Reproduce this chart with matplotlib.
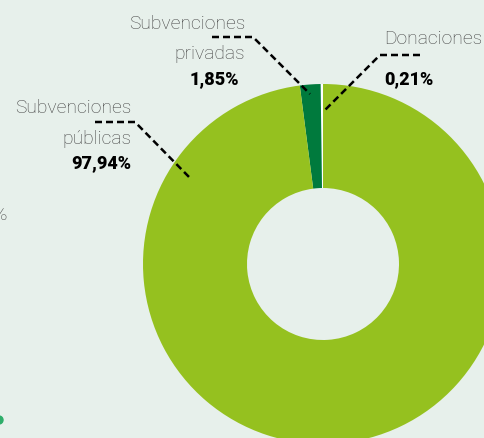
import matplotlib.pyplot as plt

# datos
categorias = ["Donaciones", "Subvenciones privadas", "Subvenciones públicas"]
valores = [0.21, 1.85, 97.94]
etiquetas = ["0,21%", "1,85%", "97,94%"]
colores = ["#ffffff", "#007a3d", "#95c11f"]

H = 439
fondo = "#e7f0eb"
gris = "#444444"
fuente = "Roboto"

def y(p):
    # de coordenada de pixel (desde arriba) a datos
    return H - p

fig = plt.figure(figsize=(4.84, 4.39), dpi=100, facecolor=fondo)
ax = fig.add_axes([0, 0, 1, 1])
ax.set_facecolor(fondo)

ax.pie(valores, colors=colores, startangle=90, counterclock=True,
       center=(323, y(265)), radius=180,
       wedgeprops=dict(width=104, edgecolor="none"))

ax.set_xlim(0, 484)
ax.set_ylim(0, H)
ax.set_aspect("equal")
ax.axis("off")

ls = dict(color="black", lw=1.8, dashes=(2.8, 1.6))
txt = dict(family=fuente, weight="light", color=gris, fontsize=13.9, va="center")
pct = dict(family=fuente, weight="heavy", color="black", fontsize=13, va="center")

# Subvenciones públicas
ax.text(131, y(108), "Subvenciones", ha="right", **txt)
ax.text(131, y(139), "públicas", ha="right", **txt)
ax.text(131, y(163), etiquetas[2], ha="right", **pct)
ax.plot([95, 135, 191], [y(123), y(123), y(180)], **ls)

# Subvenciones privadas
ax.text(245, y(24), "Subvenciones", ha="right", **txt)
ax.text(245, y(54), "privadas", ha="right", **txt)
ax.text(239, y(79), etiquetas[1], ha="right", **pct)
ax.plot([212, 253, 310], [y(38), y(38), y(95)], **ls)

# Donaciones
ax.text(482, y(39), "Donaciones", ha="right", **txt)
ax.text(384, y(79), etiquetas[0], ha="left", **pct)
ax.plot([420, 380, 323], [y(56), y(56), y(113)], **ls)

# restos del panel vecino
ax.text(7, y(215), "%", ha="right", **txt)
ax.add_patch(plt.Circle((-1, y(421)), 4, color="#2fae6a", clip_on=True))

fig.savefig("out.png", dpi=100, facecolor=fondo)
